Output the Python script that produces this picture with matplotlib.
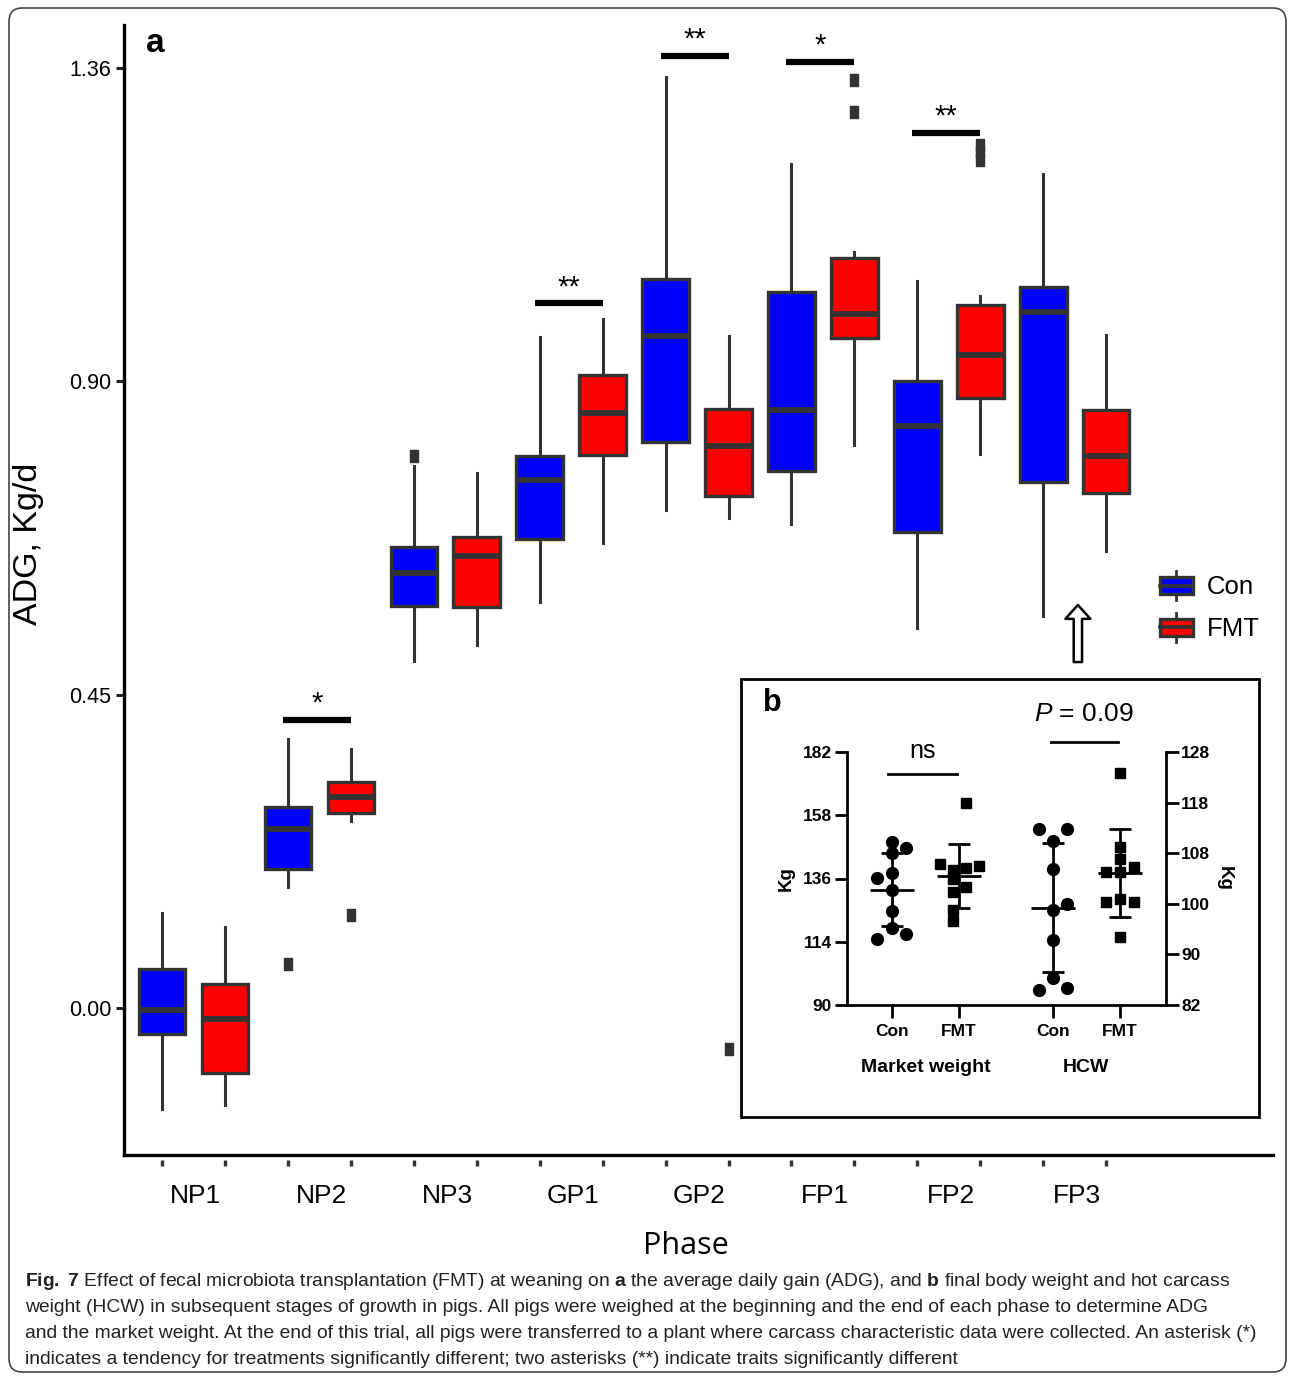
import numpy as np
import matplotlib
matplotlib.use("Agg")
import matplotlib.pyplot as plt
from matplotlib import patches, transforms, font_manager
from matplotlib.legend_handler import HandlerBase
from matplotlib.lines import Line2D
from matplotlib.path import Path

# ---- panel a: ADG box plots ----
phases = ["NP1", "NP2", "NP3", "GP1", "GP2", "FP1", "FP2", "FP3"]

con_lo = [-0.145, 0.174, 0.498, 0.583, 0.715, 0.695, 0.546, 0.563]
con_q1 = [-0.037, 0.200, 0.578, 0.674, 0.813, 0.771, 0.684, 0.756]
con_med = [-0.003, 0.257, 0.625, 0.758, 0.965, 0.859, 0.836, 1.000]
con_q3 = [0.056, 0.289, 0.662, 0.793, 1.047, 1.028, 0.900, 1.036]
con_hi = [0.136, 0.386, 0.779, 0.964, 1.337, 1.212, 1.044, 1.198]
con_out = [[], [0.063], [0.793], [], [], [], [], []]

fmt_lo = [-0.139, 0.269, 0.521, 0.668, 0.704, 0.809, 0.796, 0.656]
fmt_q1 = [-0.093, 0.280, 0.576, 0.794, 0.735, 0.962, 0.876, 0.740]
fmt_med = [-0.016, 0.303, 0.649, 0.855, 0.807, 0.997, 0.938, 0.793]
fmt_q3 = [0.034, 0.325, 0.676, 0.909, 0.860, 1.077, 1.010, 0.859]
fmt_hi = [0.116, 0.372, 0.768, 0.990, 0.965, 1.086, 1.023, 0.967]
fmt_out = [[], [0.134], [], [], [-0.059], [1.333, 1.287], [1.239, 1.229, 1.218], []]

sig_phase = [1, 3, 4, 5, 6]
sig_text = ["*", "**", "**", "*", "**"]
sig_height = [0.414, 1.012, 1.367, 1.359, 1.257]

# ---- panel b: market weight and HCW ----
mw_con = [149.3, 147.1, 145.3, 136.2, 138.0, 131.8, 124.2, 118.0, 114.0, 115.8]
mw_con_dx = [0, 0.21, 0, -0.22, 0, 0, 0, 0, -0.22, 0.21]
mw_fmt = [163.5, 141.3, 139.1, 139.8, 140.5, 135.8, 131.1, 132.9, 124.5, 120.5]
mw_fmt_dx = [0.1, -0.28, -0.09, 0.1, 0.3, -0.09, -0.09, 0.1, -0.09, -0.09]
hcw_con = [114.0, 114.0, 111.8, 106.7, 100.4, 99.3, 93.8, 86.9, 84.7, 85.1]
hcw_con_dx = [-0.21, 0.21, 0, 0, 0.21, 0, 0, 0, -0.21, 0.21]
hcw_fmt = [124.2, 110.7, 108.5, 106.2, 106.2, 107.1, 100.7, 101.3, 100.7, 94.4]
hcw_fmt_dx = [0, 0, 0, -0.21, 0, 0.21, -0.21, 0, 0.21, 0]

left_ticks = ["90", "114", "136", "158", "182"]
right_ticks = ["82", "90", "100", "108", "118", "128"]

caption = [
    r"$\mathbf{Fig.\ 7}$ Effect of fecal microbiota transplantation (FMT) at weaning on $\mathbf{a}$ the average daily gain (ADG), and $\mathbf{b}$ final body weight and hot carcass",
    "weight (HCW) in subsequent stages of growth in pigs. All pigs were weighed at the beginning and the end of each phase to determine ADG",
    "and the market weight. At the end of this trial, all pigs were transferred to a plant where carcass characteristic data were collected. An asterisk (*)",
    "indicates a tendency for treatments significantly different; two asterisks (**) indicate traits significantly different",
]


def has_font(name):
    try:
        font_manager.findfont(name, fallback_to_default=False)
        return True
    except Exception:
        return False


narrow = "Liberation Sans Narrow" if has_font("Liberation Sans Narrow") else "Liberation Sans"

plt.rcParams["font.family"] = ["Liberation Sans", "DejaVu Sans"]
plt.rcParams["mathtext.fontset"] = "custom"
plt.rcParams["mathtext.rm"] = narrow
plt.rcParams["mathtext.bf"] = narrow + ":bold"
plt.rcParams["mathtext.it"] = "Liberation Sans:italic"

W, H = 1295, 1379
fig = plt.figure(figsize=(W / 100, H / 100), dpi=100)

EDGE = "#333333"
BLUE = "#0000ff"
RED = "#ff0000"

# outer rounded frame
fig.patches.append(patches.FancyBboxPatch(
    (9 / W, 7 / H), 1277 / W, 1364 / H, boxstyle="round,pad=0,rounding_size=0.01",
    transform=fig.transFigure, fill=False, edgecolor="#444444", linewidth=1.2, zorder=0))

ax = fig.add_axes([124 / W, 1 - 1155 / H, (1273 - 124) / W, (1155 - 25) / H])

con_pos = np.arange(len(phases)) * 2 + 1
fmt_pos = con_pos + 1


def make_stats(lo, q1, med, q3, hi, out):
    return [dict(whislo=a, q1=b, med=c, q3=d, whishi=e, fliers=f, label="")
            for a, b, c, d, e, f in zip(lo, q1, med, q3, hi, out)]


flier_marker = Path([(-0.38, -0.5), (0.38, -0.5), (0.38, 0.5), (-0.38, 0.5), (-0.38, -0.5)], closed=True)
common = dict(widths=0.74, patch_artist=True, showcaps=False, showfliers=True,
              medianprops=dict(color=EDGE, linewidth=4.2, solid_capstyle="butt"),
              whiskerprops=dict(color=EDGE, linewidth=2.2),
              flierprops=dict(marker=flier_marker, markerfacecolor=EDGE, markeredgecolor=EDGE,
                              markersize=8, linestyle="none"))

bc = ax.bxp(make_stats(con_lo, con_q1, con_med, con_q3, con_hi, con_out), positions=con_pos,
            boxprops=dict(facecolor=BLUE, edgecolor=EDGE, linewidth=2.4), **common)
bf = ax.bxp(make_stats(fmt_lo, fmt_q1, fmt_med, fmt_q3, fmt_hi, fmt_out), positions=fmt_pos,
            boxprops=dict(facecolor=RED, edgecolor=EDGE, linewidth=2.4), **common)

ax.set_xlim(0.396, 18.65)
ax.set_ylim(-0.211, 1.412)
ax.set_yticks([0, 0.45, 0.90, 1.35])
ax.set_yticklabels(["0.00", "0.45", "0.90", "1.36"])
ax.set_xticks((con_pos + fmt_pos) / 2 + 0.03)
ax.set_xticklabels(phases)
ax.tick_params(axis="x", length=0, pad=21, labelsize=19)
ax.tick_params(axis="y", length=6, width=2.2, pad=3, labelsize=15.5, color="#222222")
for s in ["top", "right"]:
    ax.spines[s].set_visible(False)
for s in ["left", "bottom"]:
    ax.spines[s].set_linewidth(2.4)
    ax.spines[s].set_color("black")

# detached small x ticks under each box
trans = transforms.blended_transform_factory(ax.transData, ax.transAxes)
ax.vlines(np.concatenate([con_pos, fmt_pos]), -0.0045, -0.0098, transform=trans,
          color=EDGE, linewidth=2.4, clip_on=False)

ax.set_ylabel("ADG, Kg/d", fontsize=24.5)
ax.yaxis.set_label_coords(-0.0696, 0.541)
ax.set_xlabel("Phase", fontsize=22, family=["Open Sans", "DejaVu Sans"])
ax.xaxis.set_label_coords(0.489, -0.0675)
ax.xaxis.label.set_va("top")
ax.text(155 / W, 1 - 43 / H, "a", transform=fig.transFigure, fontsize=24, fontweight="bold",
        ha="center", va="center")

# significance bars
for i, txt, h in zip(sig_phase, sig_text, sig_height):
    ax.plot([con_pos[i] - 0.08, fmt_pos[i]], [h, h], color="black", linewidth=4.5,
            solid_capstyle="butt")
    ax.text((con_pos[i] - 0.08 + fmt_pos[i]) / 2, h + 0.012, txt, ha="center", va="baseline",
            fontsize=21)


# legend with boxplot glyphs
class BoxHandler(HandlerBase):
    def create_artists(self, legend, orig, xdescent, ydescent, width, height, fontsize, trans):
        x0, y0 = -xdescent, -ydescent
        rect = patches.Rectangle((x0, y0 + 0.2 * height), width, 0.6 * height,
                                 facecolor=orig.get_facecolor(), edgecolor=EDGE, linewidth=2.4,
                                 transform=trans)
        med = Line2D([x0, x0 + width], [y0 + 0.5 * height] * 2, color=EDGE, linewidth=2.6,
                     transform=trans)
        w1 = Line2D([x0 + width / 2] * 2, [y0, y0 + 0.2 * height], color=EDGE, linewidth=2,
                    transform=trans)
        w2 = Line2D([x0 + width / 2] * 2, [y0 + 0.8 * height, y0 + height], color=EDGE,
                    linewidth=2, transform=trans)
        return [rect, med, w1, w2]


hc = patches.Patch(facecolor=BLUE)
hf = patches.Patch(facecolor=RED)
fig.legend([hc, hf], ["Con", "FMT"], handler_map={patches.Patch: BoxHandler()},
           loc="upper left", bbox_to_anchor=(1160 / W, 1 - 571 / H), frameon=False,
           fontsize=18.5, handlelength=1.28, handleheight=1.36, handletextpad=0.55,
           labelspacing=0.5, borderpad=0, borderaxespad=0)

# hollow arrow pointing up at FP3
ax.annotate("", xy=(15.55, 0.583), xytext=(15.55, 0.493),
            arrowprops=dict(arrowstyle="simple,head_width=1.8,head_length=1.0,tail_width=0.6",
                            facecolor="white", edgecolor="black", linewidth=1.8))

# ---- inset panel b ----
fig.patches.append(patches.Rectangle((741 / W, 1 - 1117 / H), 518 / W, 438 / H,
                                     transform=fig.transFigure, facecolor="white",
                                     edgecolor="black", linewidth=2, zorder=2))

axb = fig.add_axes([847 / W, 1 - 1005 / H, (1166 - 847) / W, 253 / H], zorder=4)
axb.patch.set_alpha(0)
axr = axb.twinx()
axb.set_xlim(0.33, 5.09)
axb.set_ylim(90, 182)
axr.set_ylim(82, 128)
axb.set_yticks(np.linspace(90, 182, 5))
axb.set_yticklabels(left_ticks)
axr.set_yticks(np.linspace(82, 128, 6))
axr.set_yticklabels(right_ticks)
xb = [1, 2, 3.4, 4.4]
axb.set_xticks(xb)
axb.set_xticklabels(["Con", "FMT", "Con", "FMT"])
for a in (axb, axr):
    a.spines["top"].set_visible(False)
    for s in a.spines.values():
        s.set_linewidth(2)
    a.tick_params(length=9, width=2, labelsize=12.5, pad=2)
    for lab in a.get_yticklabels() + a.get_xticklabels():
        lab.set_fontweight("bold")
axb.spines["right"].set_visible(False)
axr.spines["left"].set_visible(False)
axr.spines["bottom"].set_visible(False)
axb.tick_params(axis="x", pad=5)
axb.set_ylabel("Kg", fontsize=13.5, fontweight="bold", labelpad=6)
axr.set_ylabel("Kg", fontsize=13.5, fontweight="bold", rotation=270, labelpad=16)


def dots(a, x, vals, dx, marker, size):
    vals = np.array(vals)
    a.plot(x + np.array(dx), vals, linestyle="none", marker=marker, color="black",
           markersize=size, zorder=3)
    m, sd = vals.mean(), vals.std(ddof=1)
    a.errorbar([x], [m], yerr=[sd], color="black", elinewidth=2, capsize=8, capthick=2, zorder=4)
    a.hlines(m, x - 0.33, x + 0.33, color="black", linewidth=2, zorder=4)


dots(axb, xb[0], mw_con, mw_con_dx, "o", 8.5)
dots(axb, xb[1], mw_fmt, mw_fmt_dx, "s", 7.8)
dots(axr, xb[2], hcw_con, hcw_con_dx, "o", 8.5)
dots(axr, xb[3], hcw_fmt, hcw_fmt_dx, "s", 7.8)

for a in (axb, axr):
    for ln in a.lines:
        ln.set_clip_on(False)

# group labels and significance inside inset
fig.text(926 / W, 1 - 1067 / H, "Market weight", fontsize=14, fontweight="bold", ha="center",
         va="center", zorder=5)
fig.text(1086 / W, 1 - 1067 / H, "HCW", fontsize=14, fontweight="bold", ha="center",
         va="center", zorder=5)
fig.text(772 / W, 1 - 703 / H, "b", fontsize=22, fontweight="bold", ha="center", va="center",
         zorder=5)
tb = transforms.blended_transform_factory(axb.transData, axb.transAxes)
axb.plot([xb[0] - 0.06, xb[1] - 0.03], [0.913, 0.913], transform=tb, color="black",
         linewidth=2, clip_on=False)
axb.plot([xb[2] - 0.03, xb[3] - 0.02], [1.04, 1.04], transform=tb, color="black",
         linewidth=2, clip_on=False)
fig.text(923 / W, 1 - 758 / H, "ns", fontsize=18, ha="center", va="baseline", zorder=5)
fig.text(1084 / W, 1 - 721 / H, r"$P$ = 0.09", fontsize=19, ha="center", va="baseline", zorder=5)

# caption
for k, line in enumerate(caption):
    fig.text(25 / W, 1 - (1281 + 26.3 * k) / H, line, fontsize=13.85, family=narrow,
             ha="left", va="center", color="#222222")

fig.savefig("out.png", dpi=100)
